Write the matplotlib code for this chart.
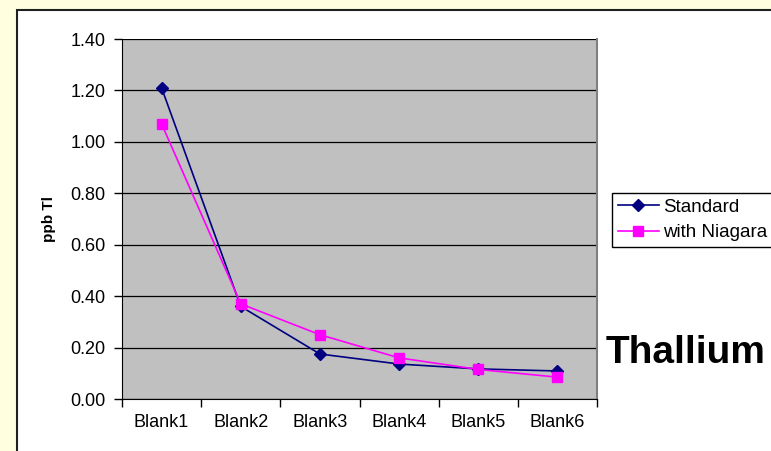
import matplotlib
matplotlib.use("Agg")
import matplotlib.pyplot as plt
from matplotlib.patches import Rectangle

plt.rcParams['font.family'] = ['Liberation Sans', 'DejaVu Sans']

blanks = ['Blank1', 'Blank2', 'Blank3', 'Blank4', 'Blank5', 'Blank6']
standard = [1.21, 0.36, 0.175, 0.136, 0.117, 0.109]
niagara = [1.07, 0.37, 0.25, 0.16, 0.115, 0.085]
y_ticks = [0.0, 0.2, 0.4, 0.6, 0.8, 1.0, 1.2, 1.4]

W, H = 771, 451
fig = plt.figure(figsize=(W / 100, H / 100), dpi=100)
fig.patch.set_facecolor('#FFFFE0')

# white chart area with dark border on top / left
fig.patches.append(Rectangle((17 / W, -0.1), 1.0, 1 - 10 / H + 0.1,
                             transform=fig.transFigure, facecolor='white',
                             edgecolor='#202020', linewidth=1.5, zorder=-5))

ax = fig.add_axes([122 / W, 1 - 399 / H, (597 - 122) / W, (399 - 39) / H])
ax.set_facecolor('#C0C0C0')

x = [i + 0.5 for i in range(len(blanks))]
ax.plot(x, standard, color='#000080', lw=1.2, marker='D', ms=6,
        label='Standard', zorder=3)
ax.plot(x, niagara, color='#FF00FF', lw=1.2, marker='s', ms=6.5,
        label='with Niagara', zorder=3)

ax.set_xlim(0, len(blanks))
ax.set_ylim(0, 1.4)
ax.set_yticks(y_ticks)
ax.set_yticklabels([f'{v:.2f}' for v in y_ticks])
ax.yaxis.grid(True, color='black', lw=0.9)
ax.set_axisbelow(True)

# category ticks sit between the labels
ax.set_xticks(range(len(blanks) + 1))
ax.set_xticklabels([])
ax.set_xticks(x, minor=True)
ax.set_xticklabels(blanks, minor=True)
ax.tick_params(axis='x', which='minor', length=0, pad=10.5, labelsize=13)
ax.tick_params(axis='x', which='major', length=6, width=1, color='black')
ax.tick_params(axis='y', length=6, width=1, color='black', labelsize=13, pad=6)

ax.spines['left'].set_color('black')
ax.spines['bottom'].set_color('black')
ax.spines['top'].set_visible(False)
ax.spines['right'].set_color('#808080')
ax.spines['right'].set_linewidth(1.5)

ax.set_ylabel('ppb Tl', fontsize=11, fontweight='bold', labelpad=10)

leg = ax.legend(loc='upper left', bbox_to_anchor=(612 / W, 1 - 193 / H),
                bbox_transform=fig.transFigure, fontsize=13.5, frameon=True,
                fancybox=False, edgecolor='black', framealpha=1,
                borderpad=0.3, borderaxespad=0, handlelength=2.2,
                handletextpad=0.2, labelspacing=0.45)
leg.get_frame().set_linewidth(1)

fig.text(606 / W, 1 - 353 / H, 'Thallium', fontsize=28, fontweight='bold',
         va='center', ha='left')

fig.savefig('out.png', dpi=100)
